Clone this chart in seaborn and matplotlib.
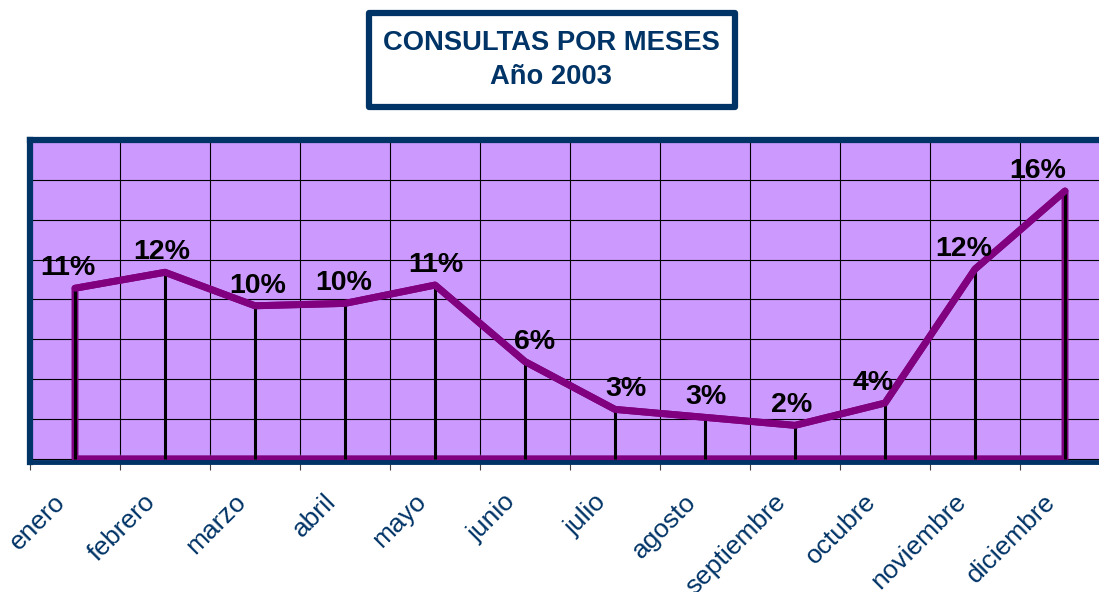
"""Consultas por meses (año 2003): line with drop lines over a lilac grid."""

import matplotlib.patches as mpatches
import matplotlib.pyplot as plt
import numpy as np
import pandas as pd
import seaborn as sns
from matplotlib.transforms import ScaledTranslation

MONTHS = ["enero", "febrero", "marzo", "abril", "mayo", "junio", "julio",
          "agosto", "septiembre", "octubre", "noviembre", "diciembre"]
# Share of consultations per month (percent).
SHARE = [10.7, 11.7, 9.6, 9.75, 10.9, 6.1, 3.1, 2.6, 2.1, 3.5, 11.9, 16.8]
LABELS = ["11%", "12%", "10%", "10%", "11%", "6%", "3%", "3%", "2%", "4%",
          "12%", "16%"]
# Horizontal nudge of each data label, in pixels.
LABEL_DX = [-7, -3, 3, -1, 1, 10, 11, 1, -3, -12, -11, -27]

NAVY = "#003366"
PURPLE = "#800080"
LILAC = "#CC99FF"
W, H = 1099, 592


def _main() -> None:
    sns.set_style("white")
    plt.rcParams["font.family"] = ["Liberation Sans", "DejaVu Sans"]

    df = pd.DataFrame({"month": MONTHS, "share": SHARE, "label": LABELS})
    df["pos"] = np.arange(len(df)) + 0.5

    fig = plt.figure(figsize=(W / 100, H / 100), dpi=100)
    ax = fig.add_axes([30 / W, 1 - 462 / H, 1080 / W, 322 / H])
    ax.set_facecolor(LILAC)

    # Outline of the area under the series (no fill).
    ax.fill_between(df.pos, df.share, 0, facecolor="none",
                    edgecolor=PURPLE, lw=5, zorder=2)
    ax.vlines(df.pos, 0, df.share, color="black", lw=2.2, zorder=3)
    sns.lineplot(data=df, x="pos", y="share", color=PURPLE, lw=5,
                 ax=ax, zorder=4)

    for x, y, lab, dx in zip(df.pos, df.share, df.label, LABEL_DX):
        ax.annotate(lab, (x, y), xytext=(dx, 13), textcoords="offset pixels",
                    ha="center", va="baseline", fontsize=20.5,
                    fontweight="bold", color="black", zorder=5)

    ax.set_xlim(0, 12)
    ax.set_ylim(-0.2, 20)
    ax.set_xticks(np.arange(0, 13))
    ax.set_xticklabels([])
    ax.set_xticks(df.pos, minor=True)
    ax.set_xticklabels(df.month, minor=True, rotation=45, ha="right",
                       va="center", rotation_mode="anchor", fontsize=19,
                       color=NAVY)
    ax.set_yticks(np.arange(0, 20.1, 2.5))
    ax.set_yticklabels([])
    ax.tick_params(axis="x", which="major", direction="inout", length=11,
                   width=0.8, color="#444444", bottom=True)
    ax.tick_params(axis="x", which="minor", length=0, pad=26)
    ax.tick_params(axis="y", length=0)
    shift = ScaledTranslation(-13 / 100, 0, fig.dpi_scale_trans)
    for lbl in ax.get_xticklabels(minor=True):
        lbl.set_transform(lbl.get_transform() + shift)
    ax.grid(True, which="major", color="black", lw=0.8)
    ax.set_axisbelow(True)
    ax.set_xlabel("")
    ax.set_ylabel("")

    for side in ("left", "top"):
        ax.spines[side].set_color(NAVY)
        ax.spines[side].set_linewidth(4.5)
    ax.spines["bottom"].set_color(NAVY)
    ax.spines["bottom"].set_linewidth(3.5)
    ax.spines["right"].set_visible(False)

    # Title box.
    box = mpatches.Rectangle((369 / W, 1 - 107 / H), 366 / W, 94 / H,
                             transform=fig.transFigure, facecolor="white",
                             edgecolor=NAVY, lw=4.5, joinstyle="round")
    fig.patches.append(box)
    fig.text(551 / W, 1 - 43 / H, "CONSULTAS POR MESES", ha="center",
             va="center", fontsize=19.7, fontweight="bold", color=NAVY)
    fig.text(551 / W, 1 - 77 / H, "Año 2003", ha="center", va="center",
             fontsize=19.7, fontweight="bold", color=NAVY)

    fig.savefig("out.png", dpi=100, facecolor="white")


if __name__ == "__main__":
    _main()
